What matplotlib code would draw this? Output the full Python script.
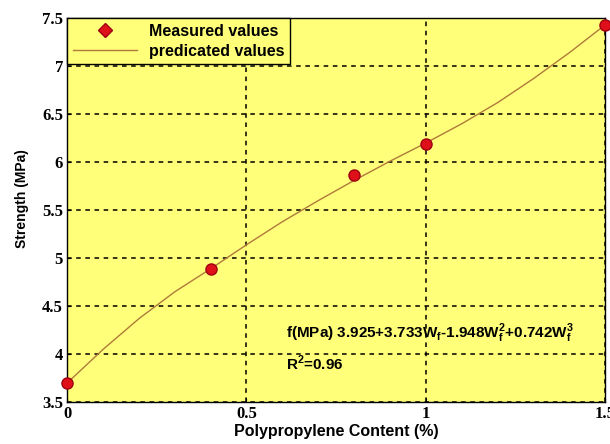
import matplotlib.pyplot as plt
from matplotlib.lines import Line2D

# measured points
content = [0.0, 0.4, 0.8, 1.0, 1.5]
strength = [3.70, 4.89, 5.87, 6.19, 7.43]

# predicted curve
pred_x = [0.0, 0.1, 0.2, 0.3, 0.4, 0.5, 0.6, 0.7, 0.8, 0.9, 1.0, 1.1, 1.2, 1.3, 1.4, 1.5]
pred_y = [3.70, 4.05, 4.37, 4.65, 4.89, 5.14, 5.38, 5.60, 5.81, 6.01, 6.20, 6.40, 6.62, 6.87, 7.14, 7.43]

xticks = [0, 0.5, 1, 1.5]
xticklabels = ["0", "0.5", "1", "1.5"]
yticks = [3.5, 4, 4.5, 5, 5.5, 6, 6.5, 7, 7.5]
yticklabels = ["3.5", "4", "4.5", "5", "5.5", "6", "6.5", "7", "7.5"]

fig = plt.figure(figsize=(6.1, 4.44), dpi=100)
ax = fig.add_axes([0.110, 0.094, 0.882, 0.865])
ax.set_facecolor("#ffff7a")

ax.plot(pred_x, pred_y, color="#b07a3a", lw=1.0, zorder=3)
ax.plot(content, strength, "o", color="#e0101a", mec="#a00010", ms=8, zorder=4, clip_on=False)

ax.set_xlim(0, 1.5)
ax.set_ylim(3.5, 7.5)
ax.set_xticks(xticks)
ax.set_xticklabels(xticklabels, family="Liberation Serif", fontweight="bold", fontsize=12)
ax.set_yticks(yticks)
ax.set_yticklabels(yticklabels, family="Liberation Serif", fontweight="bold", fontsize=12)
ax.tick_params(direction="in", length=3, pad=3)

ax.grid(True, color="black", linestyle=(0, (3, 3)), lw=1.1)
for s in ax.spines.values():
    s.set_color("black")
    s.set_linewidth(1.0)

ax.set_xlabel("Polypropylene Content (%)", family="Liberation Sans", fontweight="bold", fontsize=11.5, labelpad=1)
ax.set_ylabel("Strength (MPa)", family="Liberation Sans", fontweight="bold", fontsize=10)
ax.yaxis.set_label_coords(-0.071, 0.53)

ax.text(0.61, 4.22, r"f(MPa) 3.925+3.733W$_\mathregular{f}$-1.948W$_\mathregular{f}^\mathregular{2}$+0.742W$_\mathregular{f}^\mathregular{3}$",
        family="Liberation Sans", fontweight="bold", fontsize=11, va="center", zorder=5)
ax.text(0.61, 3.91, r"R$^\mathregular{2}$=0.96", family="Liberation Sans", fontweight="bold",
        fontsize=11, va="center", zorder=5)

handles = [Line2D([], [], marker="D", ls="none", color="#e0101a", mec="#a00010", ms=7),
           Line2D([], [], color="#b07a3a", lw=1.0)]
leg = ax.legend(handles, ["Measured values", "predicated values"], loc="upper left",
                borderaxespad=0, fancybox=False, framealpha=1, facecolor="#ffff7a",
                edgecolor="black", prop={"family": "Liberation Sans", "weight": "bold", "size": 11.5},
                handlelength=4, borderpad=0.35, labelspacing=0.3)
leg.get_frame().set_linewidth(1.0)

fig.savefig("out.png", dpi=100)
